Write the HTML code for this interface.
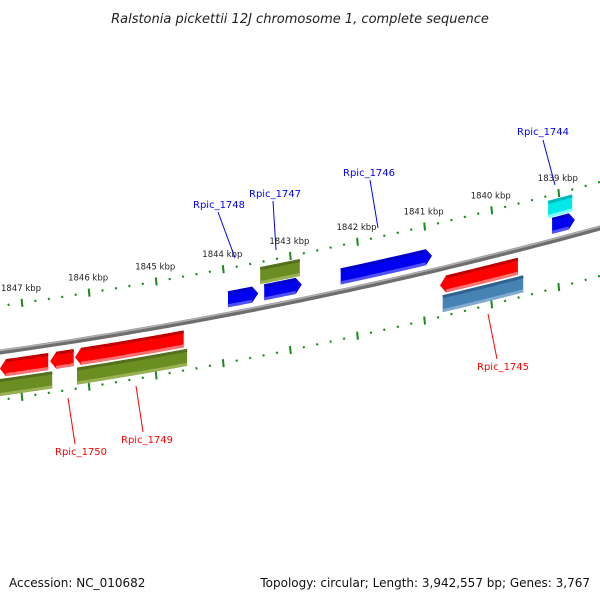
<!DOCTYPE html>
<html><head><meta charset="utf-8"><style>
body{margin:0;background:#fff;}
svg{display:block;font-family:"DejaVu Sans","Liberation Sans",sans-serif;}
</style></head><body>
<svg id="map" width="600" height="600" viewBox="0 0 600 600">
<text x="300" y="23" text-anchor="middle" font-size="13" font-style="italic" fill="#222">Ralstonia pickettii 12J chromosome 1, complete sequence</text>
<text x="9" y="587" font-size="12" fill="#111">Accession: NC_010682</text>
<text x="590" y="587" text-anchor="end" font-size="12" fill="#111">Topology: circular; Length: 3,942,557 bp; Genes: 3,767</text>
</svg>
<script>
// data
const tickLabels = [1847,1846,1845,1844,1843,1842,1841,1840,1839];
const geneNames = ["Rpic_1748","Rpic_1747","Rpic_1746","Rpic_1744","Rpic_1745","Rpic_1749","Rpic_1750"];
// features: [startKbp, endKbp]
const blueGenes = [[1843.93,1843.48],[1843.39,1842.83],[1842.25,1840.89],[1839.10,1838.76]];
const oliveTopGenes = [[1843.45,1842.86]];
const cyanGenes = [[1839.16,1838.80]];
const redGenes = [[1847.33,1846.61],[1846.58,1846.23],[1846.21,1844.59],[1840.77,1839.61]];
const oliveBottomGenes = [[1847.33,1846.55],[1846.18,1844.54]];
const steelGenes = [[1840.73,1839.53]];

const NS="http://www.w3.org/2000/svg";
const svg=document.getElementById('map');
function X(k){return 22+(1847-k)*67.1;}
function Y(x){return 352-0.14*x-0.0001111*x*x;}
function mk(t,a){const e=document.createElementNS(NS,t);for(const k in a)e.setAttribute(k,a[k]);svg.appendChild(e);return e;}

// backbone
let d="";for(let x=-10;x<=610;x+=10){d+=(x===-10?"M":"L")+x+","+Y(x).toFixed(1);}
let bb=mk('path',{d:d,stroke:'#6e6e6e','stroke-width':5,fill:'none'});


let bb2=mk('path',{d:d,stroke:'#b0b0b0','stroke-width':1.5,fill:'none',transform:'translate(0,-1.5)'});



// tick lines
function ticks(off,labels,name){
  for(let k=1848;k>=1838;k-=0.2){
    const kk=Math.round(k*10)/10;const x=X(kk);if(x<-5||x>605)continue;
    const y=Y(x)+off;const major=Math.abs(kk-Math.round(kk))<0.01;
    const t=mk('line',{x1:x-0.4,y1:y-(major?4:1),x2:x+0.4,y2:y+(major?4:1),stroke:'#1a8a1a','stroke-width':2});
    
    
  }
}
ticks(-46,true,'upper');
ticks(48,false,'lower');
tickLabels.forEach(k=>{const x=X(k);const t=mk('text',{x:x-21,y:Y(x)-46-12,'font-size':8.5,fill:'#222'});t.textContent=k+" kbp";

});

// genes
function gene(s,e,o1,o2,fill,dark,light,dir,name){
  let x1=X(s),x2=X(e);const h=6;let top=[],bot=[];
  const a=x1+(dir<0?h:0), b=x2-(dir>0?h:0);
  for(let i=0;i<=8;i++){const x=a+(b-a)*i/8;top.push([x,Y(x)+o1]);bot.push([x,Y(x)+o2]);}
  let pts=top.slice();
  if(dir>0){pts.push([x2,Y(x2)+(o1+o2)/2]);}
  pts=pts.concat(bot.slice().reverse());
  if(dir<0){pts.push([x1,Y(x1)+(o1+o2)/2]);}
  if(dir===0){pts=top.concat(bot.slice().reverse());}
  const p=mk('polygon',{points:pts.map(q=>q.map(v=>v.toFixed(1)).join(',')).join(' '),fill:fill});
  
  
  let s1=top.map(q=>q[0]+','+(q[1]+1.5).toFixed(1)).join(' ');
  mk('polyline',{points:s1,stroke:dark,'stroke-width':3,fill:'none'});
  let s2=bot.map(q=>q[0]+','+(q[1]-1.5).toFixed(1)).join(' ');
  mk('polyline',{points:s2,stroke:light,'stroke-width':3,fill:'none'});
}
blueGenes.forEach(g=>gene(g[0],g[1],-23,-7,'#0000f0','#0000c8','#5050ff',1,'blue-gene'));
oliveTopGenes.forEach(g=>gene(g[0],g[1],-41,-24,'#6b8e23','#55701c','#9ab055',0,'olive-gene'));
cyanGenes.forEach(g=>gene(g[0],g[1],-41,-24,'#00e8e8','#00b8b8','#80ffff',0,'cyan-gene'));
redGenes.forEach(g=>gene(g[0],g[1],8,25,'#ff0000','#c00000','#ff7070',-1,'red-gene'));
oliveBottomGenes.forEach(g=>gene(g[0],g[1],27,44,'#6b8e23','#55701c','#9ab055',0,'olive-gene'));
steelGenes.forEach(g=>gene(g[0],g[1],27,44,'#4682b4','#2f6290','#80aad0',0,'steelblue-gene'));

// labels
const labelPos=[[193,208,'blue',235,258,218,212],[249,197,'blue',276,250,273,201],[343,176,'blue',378,228,370,180],[517,135,'blue',555,185,543,140],[477,370,'red',488,314,497,359],[121,443,'red',136,386,143,432],[55,455,'red',68,398,75,444]];
geneNames.forEach((n,i)=>{const L=labelPos[i];
  const ln=mk('line',{x1:L[5],y1:L[6],x2:L[3],y2:L[4],stroke:L[2]==='blue'?'#0000ff':'#ff0000','stroke-width':1});
  
  
  const t=mk('text',{x:L[0],y:L[1],'font-size':10,fill:L[2]==='blue'?'#0000ff':'#ff0000'});t.textContent=n;
  
  
});
</script>
</body></html>
